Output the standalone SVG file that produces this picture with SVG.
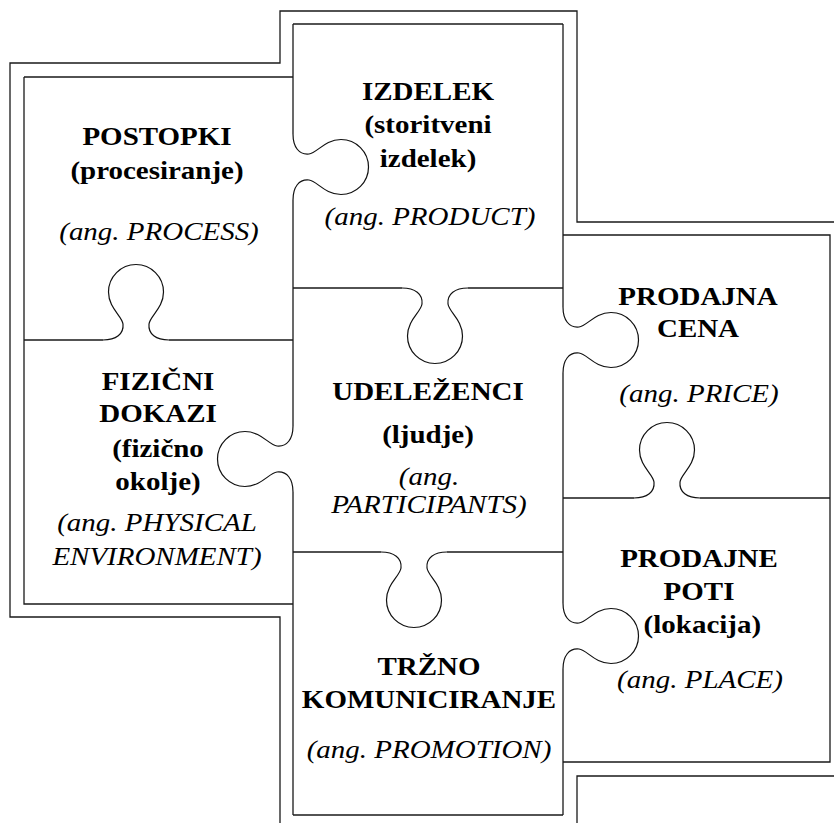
<svg xmlns="http://www.w3.org/2000/svg" xmlns:xlink="http://www.w3.org/1999/xlink" width="834" height="823" viewBox="0 0 834 823">
<style>
.ln{fill:none;stroke:#1a1a1a;stroke-width:1.3}
.kn{fill:none;stroke:#111;stroke-width:1.2}
.t{font-family:"Liberation Serif","Times New Roman",serif;font-size:26px;font-weight:bold;text-anchor:middle;fill:#000}
.i{font-weight:normal;font-style:italic}
</style>
<defs>
<path id="knob" d="M-33,0 C-20,0 -12,6 -13,16 C-14,24 -27.5,32 -27.5,48 C-27.5,63.2 -15.2,75.5 0,75.5 C15.2,75.5 27.5,63.2 27.5,48 C27.5,32 14,24 13,16 C12,6 20,0 33,0"/>
</defs>
<rect width="834" height="823" fill="#fff"/>
<g id="frame" class="ln">
<path d="M280,823 V617 H10 V63 H280 V11 H577 V222 H834"/>
<path d="M577,823 V776 H834"/>
</g>
<g id="connectors">
<g class="ln">
<path d="M24,77 H293 M24,77 V604 H293"/>
<path d="M293,24 H563"/>
<path d="M563,235 H830 V762 H563"/>
<path d="M293,815 H563"/>
<path d="M293,24 V134 M293,200 V426 M293,492 V815"/>
<path d="M563,24 V307 M563,373 V603 M563,669 V815"/>
<path d="M24,340 H103 M169,340 H293"/>
<path d="M293,288 H402 M468,288 H563"/>
<path d="M293,552 H381 M447,552 H563"/>
<path d="M563,498 H634 M700,498 H830"/>
</g>
<g class="kn">
<use xlink:href="#knob" transform="matrix(0 1 1 0 293 167)"/>
<use xlink:href="#knob" transform="matrix(0 1 -1 0 293 459)"/>
<use xlink:href="#knob" transform="matrix(1 0 0 -1 136 340)"/>
<use xlink:href="#knob" transform="translate(435 288)"/>
<use xlink:href="#knob" transform="matrix(0 1 1 0 563 340)"/>
<use xlink:href="#knob" transform="matrix(1 0 0 -1 667 498)"/>
<use xlink:href="#knob" transform="translate(414 552)"/>
<use xlink:href="#knob" transform="matrix(0 1 1 0 563 636)"/>
</g>
</g>
<g id="postopki">
<text class="t" transform="matrix(1.115 0 0 1 157 0)"><tspan x="0" y="145">POSTOPKI</tspan><tspan x="0" y="179">(procesiranje)</tspan></text>
<text class="t i" transform="matrix(1.115 0 0 1 159 0)" x="0" y="240">(ang. PROCESS)</text>
</g>
<g id="izdelek">
<text class="t" transform="matrix(1.115 0 0 1 428 0)"><tspan x="0" y="100">IZDELEK</tspan><tspan x="0" y="133">(storitveni</tspan><tspan x="0" y="167">izdelek)</tspan></text>
<text class="t i" transform="matrix(1.115 0 0 1 430 0)" x="0" y="225">(ang. PRODUCT)</text>
</g>
<g id="prodajna-cena">
<text class="t" transform="matrix(1.115 0 0 1 698 0)"><tspan x="0" y="305">PRODAJNA</tspan><tspan x="0" y="337">CENA</tspan></text>
<text class="t i" transform="matrix(1.115 0 0 1 699 0)" x="0" y="402">(ang. PRICE)</text>
</g>
<g id="fizicni-dokazi">
<text class="t" transform="matrix(1.115 0 0 1 158 0)"><tspan x="0" y="390">FIZIČNI</tspan><tspan x="0" y="422">DOKAZI</tspan><tspan x="0" y="457">(fizično</tspan><tspan x="0" y="490">okolje)</tspan></text>
<text class="t i" transform="matrix(1.115 0 0 1 157 0)"><tspan x="0" y="531">(ang. PHYSICAL</tspan><tspan x="0" y="565">ENVIRONMENT)</tspan></text>
</g>
<g id="udelezenci">
<text class="t" transform="matrix(1.115 0 0 1 428 0)"><tspan x="0" y="400">UDELEŽENCI</tspan><tspan x="0" y="443">(ljudje)</tspan></text>
<text class="t i" transform="matrix(1.115 0 0 1 429 0)"><tspan x="0" y="485">(ang.</tspan><tspan x="0" y="513">PARTICIPANTS)</tspan></text>
</g>
<g id="trzno-komuniciranje">
<text class="t" transform="matrix(1.115 0 0 1 429 0)"><tspan x="0" y="675">TRŽNO</tspan><tspan x="0" y="708">KOMUNICIRANJE</tspan></text>
<text class="t i" transform="matrix(1.115 0 0 1 429 0)" x="0" y="758">(ang. PROMOTION)</text>
</g>
<g id="prodajne-poti">
<text class="t" transform="matrix(1.115 0 0 1 699 0)"><tspan x="0" y="567">PRODAJNE</tspan><tspan x="0" y="600">POTI</tspan><tspan x="3" y="633">(lokacija)</tspan></text>
<text class="t i" transform="matrix(1.115 0 0 1 700 0)" x="0" y="688">(ang. PLACE)</text>
</g>
</svg>
